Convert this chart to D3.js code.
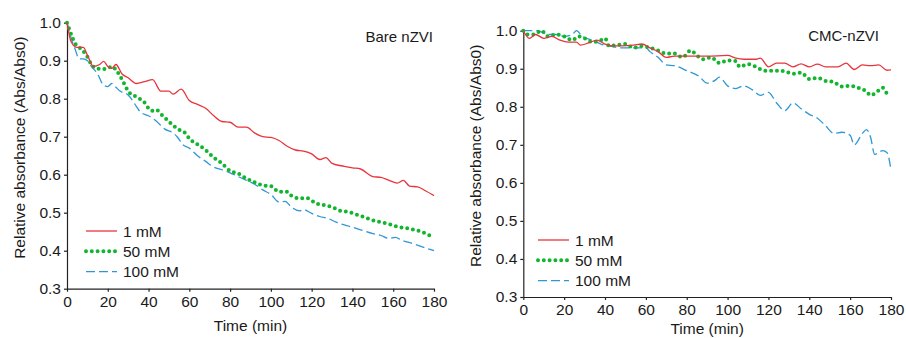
<!DOCTYPE html>
<html><head><meta charset="utf-8">
<script src="https://cdn.jsdelivr.net/npm/d3@7"></script>
<style>body{margin:0;background:#fff}svg{display:block}text{font-family:"Liberation Sans",Arial,sans-serif;fill:#1a1a1a}</style>
</head><body><svg id="c" width="906" height="338"></svg>
<script>
const xTicks = [0,20,40,60,80,100,120,140,160,180];
const yTicks = [0.3,0.4,0.5,0.6,0.7,0.8,0.9,1.0];
const seriesNames = ["1 mM","50 mM","100 mM"];
const panelTitles = ["Bare nZVI","CMC-nZVI"];
const yTitle = "Relative absorbance (Abs/Abs0)";
const xTitle = "Time (min)";

const bare1 = [[0,1.0],[2,0.95],[5,0.935],[8,0.935],[10,0.915],[13,0.885],[16,0.89],[18,0.898],[20,0.885],[22,0.88],[24,0.89],[27,0.865],[30,0.855],[34,0.84],[38,0.845],[42,0.85],[46,0.82],[50,0.82],[52,0.812],[56,0.825],[60,0.795],[64,0.785],[68,0.775],[72,0.755],[76,0.74],[80,0.738],[84,0.725],[88,0.725],[92,0.71],[96,0.70],[100,0.698],[104,0.69],[108,0.675],[112,0.665],[116,0.662],[120,0.655],[124,0.64],[127,0.645],[130,0.63],[136,0.622],[140,0.618],[144,0.615],[150,0.595],[154,0.593],[158,0.585],[162,0.578],[165,0.585],[168,0.57],[172,0.568],[176,0.557],[180,0.545]];
const bare50 = [[0,1.0],[2,0.97],[4,0.945],[6,0.935],[8,0.925],[10,0.91],[12,0.89],[14,0.88],[17,0.878],[20,0.88],[22,0.885],[24,0.876],[26,0.86],[28,0.84],[30,0.82],[34,0.805],[38,0.79],[40,0.775],[42,0.768],[44,0.77],[46,0.76],[48,0.75],[52,0.73],[56,0.715],[58,0.71],[60,0.695],[64,0.68],[68,0.665],[72,0.645],[76,0.63],[80,0.61],[84,0.603],[88,0.59],[92,0.58],[96,0.572],[100,0.57],[104,0.555],[108,0.555],[110,0.545],[114,0.538],[118,0.538],[122,0.525],[126,0.52],[130,0.515],[134,0.505],[138,0.502],[142,0.495],[146,0.488],[150,0.48],[154,0.475],[158,0.47],[162,0.463],[166,0.46],[170,0.455],[174,0.45],[178,0.44],[180,0.436]];
const bare100 = [[0,1.0],[2,0.96],[4,0.93],[6,0.905],[8,0.905],[10,0.9],[12,0.885],[15,0.865],[18,0.835],[20,0.832],[22,0.84],[24,0.83],[26,0.82],[30,0.81],[34,0.78],[36,0.765],[40,0.755],[44,0.74],[48,0.72],[52,0.71],[54,0.7],[57,0.678],[60,0.67],[64,0.65],[68,0.635],[72,0.62],[76,0.613],[80,0.605],[84,0.595],[88,0.585],[92,0.575],[96,0.56],[100,0.548],[104,0.528],[107,0.53],[110,0.515],[114,0.505],[116,0.508],[120,0.498],[124,0.49],[128,0.485],[132,0.475],[138,0.465],[144,0.455],[150,0.445],[154,0.44],[158,0.432],[161,0.435],[164,0.428],[170,0.418],[176,0.407],[180,0.40]];

const cmc1 = [[0,1.0],[3,0.98],[6,0.99],[10,0.98],[14,0.985],[18,0.975],[22,0.97],[26,0.97],[28,0.962],[32,0.968],[36,0.975],[40,0.965],[44,0.96],[48,0.96],[54,0.962],[58,0.965],[62,0.955],[66,0.945],[70,0.93],[74,0.933],[80,0.933],[90,0.933],[100,0.935],[104,0.928],[108,0.925],[114,0.925],[116,0.928],[120,0.905],[124,0.915],[128,0.915],[132,0.905],[136,0.913],[140,0.905],[144,0.912],[148,0.905],[154,0.905],[158,0.915],[162,0.898],[166,0.91],[170,0.908],[174,0.91],[178,0.896],[180,0.897]];
const cmc50 = [[0,1.0],[2,0.99],[5,0.99],[9,1.0],[12,0.985],[16,0.99],[20,0.985],[24,0.975],[27,0.985],[30,0.98],[34,0.97],[38,0.975],[40,0.98],[42,0.96],[46,0.962],[50,0.965],[54,0.955],[58,0.96],[62,0.955],[66,0.948],[70,0.94],[74,0.94],[78,0.93],[82,0.948],[84,0.94],[88,0.925],[92,0.93],[96,0.915],[100,0.922],[104,0.92],[106,0.905],[110,0.912],[114,0.905],[118,0.895],[124,0.895],[128,0.893],[132,0.887],[136,0.89],[140,0.873],[144,0.876],[148,0.868],[152,0.865],[156,0.853],[160,0.855],[164,0.85],[168,0.84],[170,0.83],[174,0.843],[176,0.85],[178,0.835],[180,0.83]];
const cmc100 = [[0,1.0],[7,1.0],[12,0.99],[16,0.99],[20,0.985],[24,0.99],[26,1.0],[29,0.985],[34,0.975],[38,0.965],[42,0.96],[48,0.955],[56,0.955],[60,0.955],[62,0.945],[66,0.93],[70,0.91],[74,0.908],[80,0.895],[86,0.88],[90,0.862],[94,0.87],[96,0.878],[100,0.855],[104,0.848],[108,0.855],[112,0.845],[116,0.83],[120,0.838],[124,0.81],[128,0.79],[132,0.81],[136,0.795],[140,0.78],[144,0.77],[148,0.75],[152,0.73],[156,0.733],[160,0.725],[162,0.7],[166,0.73],[168,0.74],[170,0.72],[172,0.675],[176,0.685],[178,0.68],[180,0.635]];

const styles = [
  {color:"#e8343c", width:1.3, dash:null, cap:"butt"},
  {color:"#12b62e", width:4, dash:"0 5.8", cap:"round"},
  {color:"#2f97d6", width:1.3, dash:"9 4", cap:"butt"}
];

const svg = d3.select("#c");

const panels = [
  {data:[bare1,bare50,bare100], x0:67, x1:434, yTop:22.7, yBot:288.7, title:panelTitles[0], titleX:433, titleY:42, legX:86, legY:231, yTitleX:20, xTitleY:331},
  {data:[cmc1,cmc50,cmc100], x0:523.3, x1:891, yTop:30.7, yBot:297, title:panelTitles[1], titleX:879, titleY:41, legX:538, legY:240, yTitleX:476, xTitleY:334}
];

panels.forEach(p => {
  const x = d3.scaleLinear().domain([0,180]).range([p.x0,p.x1]);
  const y = d3.scaleLinear().domain([0.3,1.0]).range([p.yBot,p.yTop]);
  const g = svg.append("g");
  const xa = g.append("g").attr("transform",`translate(0,${p.yBot})`)
    .call(d3.axisBottom(x).tickValues(xTicks).tickSize(3).tickPadding(4).tickSizeOuter(0));
  const ya = g.append("g").attr("transform",`translate(${p.x0},0)`)
    .call(d3.axisLeft(y).tickValues(yTicks).tickFormat(d3.format(".1f")).tickSize(3).tickPadding(3).tickSizeOuter(0));
  [xa,ya].forEach(a=>{
    a.selectAll("path,line").attr("stroke","#222").attr("stroke-width",1.2);
    a.selectAll("text").style("font-size","15.5px").style("font-family","'Liberation Sans',Arial,sans-serif").attr("fill","#1a1a1a");
  });
  const line = d3.line().x(d=>x(d[0])).y(d=>y(d[1])).curve(d3.curveMonotoneX);
  [2,1,0].forEach(i=>{
    const s = styles[i];
    g.append("path").datum(p.data[i]).attr("d",line).attr("fill","none")
      .attr("stroke",s.color).attr("stroke-width",s.width)
      .attr("stroke-dasharray",s.dash).attr("stroke-linecap",s.cap);
  });
  seriesNames.forEach((n,i)=>{
    const s = styles[i];
    const ly = p.legY + i*20.3;
    g.append("line").attr("x1",p.legX).attr("x2",p.legX+31).attr("y1",ly).attr("y2",ly)
      .attr("stroke",s.color).attr("stroke-width",s.width)
      .attr("stroke-dasharray",s.dash).attr("stroke-linecap",s.cap);
    g.append("text").attr("x",p.legX+37).attr("y",ly+5.5).style("font-size","15.5px").text(n);
  });
  g.append("text").attr("x",p.titleX).attr("y",p.titleY).attr("text-anchor","end").style("font-size","15px").text(p.title);
  g.append("text").attr("transform",`translate(${p.yTitleX+5},${(p.yTop+p.yBot)/2 - 8}) rotate(-90)`)
    .attr("text-anchor","middle").style("font-size","15.5px").text(yTitle);
  g.append("text").attr("x",(p.x0+p.x1)/2).attr("y",p.xTitleY).attr("text-anchor","middle").style("font-size","15.5px").text(xTitle);
});
</script>
</body></html>
